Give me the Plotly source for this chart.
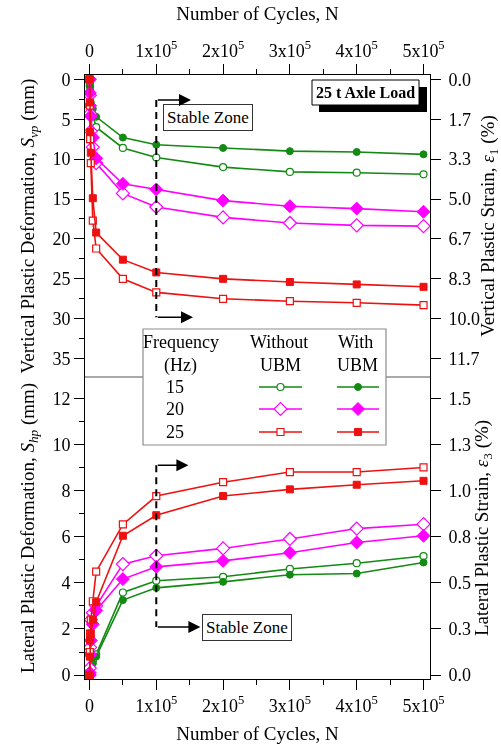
import plotly.graph_objects as go

# ---------------- data ----------------
cycles = [0, 500, 1000, 2000, 5000, 10000, 50000, 100000, 200000, 300000, 400000, 500000]

# Vertical plastic deformation S_vp (mm)
vert_15_without = [0, 0.8, 1.5, 3.0, 4.5, 6.0, 8.6, 9.8, 11.0, 11.6, 11.7, 11.9]
vert_15_with = [0, 0.5, 1.0, 2.0, 3.7, 4.7, 7.3, 8.2, 8.6, 9.0, 9.1, 9.4]
vert_20_without = [0, 2.0, 4.3, 6.5, 8.5, 10.5, 14.3, 16.0, 17.3, 18.0, 18.3, 18.4]
vert_20_with = [0, 1.7, 3.3, 4.6, 7.3, 9.9, 13.1, 13.8, 15.2, 15.9, 16.2, 16.6]
vert_25_without = [0, 3.3, 7.5, 10.5, 17.7, 21.2, 25.0, 26.7, 27.5, 27.8, 28.0, 28.3]
vert_25_with = [0, 2.9, 6.6, 9.2, 14.9, 19.2, 22.6, 24.2, 25.0, 25.4, 25.7, 26.0]

# Lateral plastic deformation S_hp (mm)
lat_15_without = [0, 0.1, 0.2, 0.3, 0.6, 0.9, 3.58, 4.09, 4.26, 4.6, 4.85, 5.16]
lat_15_with = [0, 0.1, 0.2, 0.3, 0.5, 0.8, 3.25, 3.78, 4.04, 4.35, 4.4, 4.88]
lat_20_without = [0, 0.3, 1.2, 2.4, 2.7, 3.0, 4.81, 5.17, 5.49, 5.9, 6.35, 6.54]
lat_20_with = [0, 0.1, 0.9, 1.5, 2.2, 2.8, 4.16, 4.69, 4.95, 5.3, 5.75, 6.04]
lat_25_without = [0, 1.0, 1.8, 2.4, 3.2, 4.48, 6.53, 7.76, 8.36, 8.8, 8.8, 9.0]
lat_25_with = [0, 0.8, 1.5, 1.8, 2.4, 3.16, 6.04, 6.93, 7.76, 8.05, 8.25, 8.42]

x_tickvals = [0, 100000, 200000, 300000, 400000, 500000]
x_ticktext = ['0', '1x10<sup>5</sup>', '2x10<sup>5</sup>', '3x10<sup>5</sup>', '4x10<sup>5</sup>', '5x10<sup>5</sup>']
vert_tickvals = [0, 5, 10, 15, 20, 25, 30, 35]
vert_strain_text = ['0.0', '1.7', '3.3', '5.0', '6.7', '8.3', '10.0', '11.7']
lat_tickvals = [0, 2, 4, 6, 8, 10, 12]
lat_strain_text = ['0.0', '0.3', '0.5', '0.8', '1.0', '1.3', '1.5']

freqs = ['15', '20', '25']
colors = {'15': '#138a13', '20': '#ff00ff', '25': '#ee1111'}
symbols = {'15': 'circle', '20': 'diamond', '25': 'square'}
sizes = {'15': 7, '20': 10, '25': 7}

vert = {('15', 'without'): vert_15_without, ('15', 'with'): vert_15_with,
        ('20', 'without'): vert_20_without, ('20', 'with'): vert_20_with,
        ('25', 'without'): vert_25_without, ('25', 'with'): vert_25_with}
lat = {('15', 'without'): lat_15_without, ('15', 'with'): lat_15_with,
       ('20', 'without'): lat_20_without, ('20', 'with'): lat_20_with,
       ('25', 'without'): lat_25_without, ('25', 'with'): lat_25_with}

FONT = 'Liberation Serif, Times New Roman, serif'
W, H = 501, 753
L, R, T, B = 85, 430, 75, 679
PW, PH = R - L, B - T


def pxx(p):
    return (p - L) / PW


def pxy(p):
    return (B - p) / PH


def marker(f, kind):
    if kind == 'with':
        return dict(symbol=symbols[f], size=sizes[f], color=colors[f],
                    line=dict(color=colors[f], width=1))
    return dict(symbol=symbols[f], size=sizes[f], color='white',
                line=dict(color=colors[f], width=1.2))


fig = go.Figure()

for f in freqs:
    for kind in ['without', 'with']:
        fig.add_trace(go.Scatter(x=cycles, y=vert[(f, kind)], mode='lines+markers',
                                 line=dict(color=colors[f], width=1.6),
                                 marker=marker(f, kind), xaxis='x2', yaxis='y',
                                 showlegend=False))
        fig.add_trace(go.Scatter(x=cycles, y=lat[(f, kind)], mode='lines+markers',
                                 line=dict(color=colors[f], width=1.6),
                                 marker=marker(f, kind), xaxis='x', yaxis='y3',
                                 showlegend=False))

# invisible companions so the strain (right) axes are drawn
fig.add_trace(go.Scatter(x=cycles, y=vert_25_without, mode='markers', opacity=0,
                         xaxis='x2', yaxis='y2', showlegend=False, hoverinfo='skip'))
fig.add_trace(go.Scatter(x=cycles, y=lat_25_without, mode='markers', opacity=0,
                         xaxis='x', yaxis='y4', showlegend=False, hoverinfo='skip'))

# custom legend samples (overlay axis in paper-like units)
row_y = {'15': 387, '20': 409, '25': 432}
col_x = {'without': (259, 302), 'with': (337, 379)}
for f in freqs:
    for kind in ['without', 'with']:
        x0, x1 = col_x[kind]
        yy = pxy(row_y[f])
        fig.add_trace(go.Scatter(x=[pxx(x0), pxx(x1)], y=[yy, yy], mode='lines',
                                 line=dict(color=colors[f], width=1.6),
                                 xaxis='x3', yaxis='y5', showlegend=False, hoverinfo='skip'))
        fig.add_trace(go.Scatter(x=[pxx((x0 + x1) / 2)], y=[yy], mode='markers',
                                 marker=marker(f, kind), xaxis='x3', yaxis='y5',
                                 showlegend=False, hoverinfo='skip'))

axis_common = dict(showline=True, linecolor='black', linewidth=1, ticks='outside',
                   tickcolor='black', tickwidth=1, ticklen=10, showgrid=False,
                   zeroline=False, automargin=False,
                   tickfont=dict(family=FONT, size=18, color='black'))
title_font = dict(family=FONT, size=19, color='black')
xrange = [-6700, 509700]

fig.update_layout(
    width=W, height=H,
    margin=dict(l=L, r=W - R, t=T, b=H - B, pad=0, autoexpand=False),
    paper_bgcolor='white', plot_bgcolor='rgba(0,0,0,0)',
    font=dict(family=FONT, color='black'),
    xaxis=dict(domain=[0, 1], anchor='y3', range=xrange, tickmode='array',
               tickvals=x_tickvals, ticktext=x_ticktext,
               minor=dict(tickvals=[50000, 150000, 250000, 350000, 450000], ticks='outside',
                          ticklen=5, tickcolor='black'),
               title=dict(text='Number of Cycles, N', font=title_font, standoff=12),
               **axis_common),
    xaxis2=dict(domain=[0, 1], anchor='y', side='top', range=xrange, tickmode='array',
                tickvals=x_tickvals, ticktext=x_ticktext,
                minor=dict(tickvals=[50000, 150000, 250000, 350000, 450000], ticks='outside',
                           ticklen=5, tickcolor='black'),
                title=dict(text='Number of Cycles, N', font=title_font, standoff=12),
                **axis_common),
    yaxis=dict(domain=[0.5, 1], anchor='x2', range=[37.3, -0.54], tickmode='array',
               tickvals=vert_tickvals,
               minor=dict(tickvals=[2.5, 7.5, 12.5, 17.5, 22.5, 27.5, 32.5], ticks='outside',
                          ticklen=5, tickcolor='black'),
               title=dict(text='Vertical Plastic Deformation, <i>S</i><sub><i>vp</i></sub> (mm)',
                          font=title_font, standoff=12),
               **axis_common),
    yaxis2=dict(overlaying='y', anchor='x2', side='right', range=[37.3, -0.54],
                tickmode='array', tickvals=vert_tickvals, ticktext=vert_strain_text,
                ticklabelstandoff=4,
                title=dict(text='Vertical Plastic Strain, <i>ε</i><sub>1</sub> (%)',
                           font=title_font, standoff=2),
                **axis_common),
    yaxis3=dict(domain=[0, 0.5], anchor='x', range=[-0.17, 12.92], tickmode='array',
                tickvals=lat_tickvals,
                minor=dict(tickvals=[1, 3, 5, 7, 9, 11], ticks='outside', ticklen=5,
                           tickcolor='black'),
                title=dict(text='Lateral Plastic Deformation, <i>S</i><sub><i>hp</i></sub> (mm)',
                           font=title_font, standoff=12),
                **axis_common),
    yaxis4=dict(overlaying='y3', anchor='x', side='right', range=[-0.17, 12.92],
                tickmode='array', tickvals=lat_tickvals, ticktext=lat_strain_text,
                ticklabelstandoff=4,
                title=dict(text='Lateral Plastic Strain, <i>ε</i><sub>3</sub> (%)',
                           font=title_font, standoff=2),
                **axis_common),
    xaxis3=dict(domain=[0, 1], anchor='y5', range=[0, 1], visible=False, fixedrange=True),
    yaxis5=dict(domain=[0, 1], anchor='x3', range=[0, 1], visible=False, fixedrange=True),
)

shapes = []
# divider between panels
shapes.append(dict(type='line', xref='paper', yref='paper', x0=0, x1=1, y0=0.5, y1=0.5,
                   line=dict(color='#8c8c8c', width=1.5), layer='below'))
# legend box
shapes.append(dict(type='rect', xref='paper', yref='paper', x0=pxx(143), x1=pxx(386),
                   y0=pxy(445), y1=pxy(329), fillcolor='white',
                   line=dict(color='#8c8c8c', width=1.2), layer='below'))
# 25 t axle load box with shadow
shapes.append(dict(type='rect', xref='paper', yref='paper', x0=pxx(319), x1=pxx(427),
                   y0=pxy(112), y1=pxy(87), fillcolor='black', line=dict(width=0)))
shapes.append(dict(type='rect', xref='paper', yref='paper', x0=pxx(312), x1=pxx(419),
                   y0=pxy(105), y1=pxy(80), fillcolor='white',
                   line=dict(color='black', width=1)))
# stable-zone dashed lines
shapes.append(dict(type='line', xref='x2', yref='y', x0=100000, x1=100000, y0=2.6, y1=29.8,
                   line=dict(color='black', width=2, dash='7px,5px')))
shapes.append(dict(type='line', xref='x', yref='y3', x0=100000, x1=100000, y0=9.1, y1=2.08,
                   line=dict(color='black', width=2, dash='7px,5px')))
fig.update_layout(shapes=shapes)

ann = []
lf = dict(family=FONT, size=18, color='black')
for txt, xp, yp in [('Frequency', 181, 342), ('(Hz)', 180, 365), ('Without', 279, 342),
                    ('UBM', 280, 365), ('With', 355, 342), ('UBM', 357, 365),
                    ('15', 175, 387), ('20', 175, 409), ('25', 175, 432)]:
    ann.append(dict(xref='paper', yref='paper', x=pxx(xp), y=pxy(yp), text=txt,
                    showarrow=False, font=lf, xanchor='center', yanchor='middle'))
ann.append(dict(xref='paper', yref='paper', x=pxx(365.5), y=pxy(92.5),
                text='<b>25 t Axle Load</b>', showarrow=False, xanchor='center',
                yanchor='middle', font=dict(family=FONT, size=16, color='black')))
# stable zone labels
ann.append(dict(xref='x2', yref='y', x=177000, y=4.8, text='Stable Zone', showarrow=False,
                font=dict(family=FONT, size=17, color='black'), bgcolor='white',
                bordercolor='#333333', borderwidth=1, borderpad=3))
ann.append(dict(xref='x', yref='y3', x=236000, y=2.06, text='Stable Zone', showarrow=False,
                font=dict(family=FONT, size=17, color='black'), bgcolor='white',
                bordercolor='#333333', borderwidth=1, borderpad=3))
# arrows
for xr, yr, x_tip, y_lvl in [('x2', 'y', 152000, 2.6), ('x2', 'y', 155000, 29.8),
                              ('x', 'y3', 148000, 9.1), ('x', 'y3', 166000, 2.08)]:
    ann.append(dict(xref=xr, yref=yr, axref=xr, ayref=yr, x=x_tip, y=y_lvl,
                    ax=100000, ay=y_lvl, text='', showarrow=True, arrowhead=2,
                    arrowsize=1.6, arrowwidth=1.5, arrowcolor='black'))
fig.update_layout(annotations=ann)

fig.write_html('out.html')
